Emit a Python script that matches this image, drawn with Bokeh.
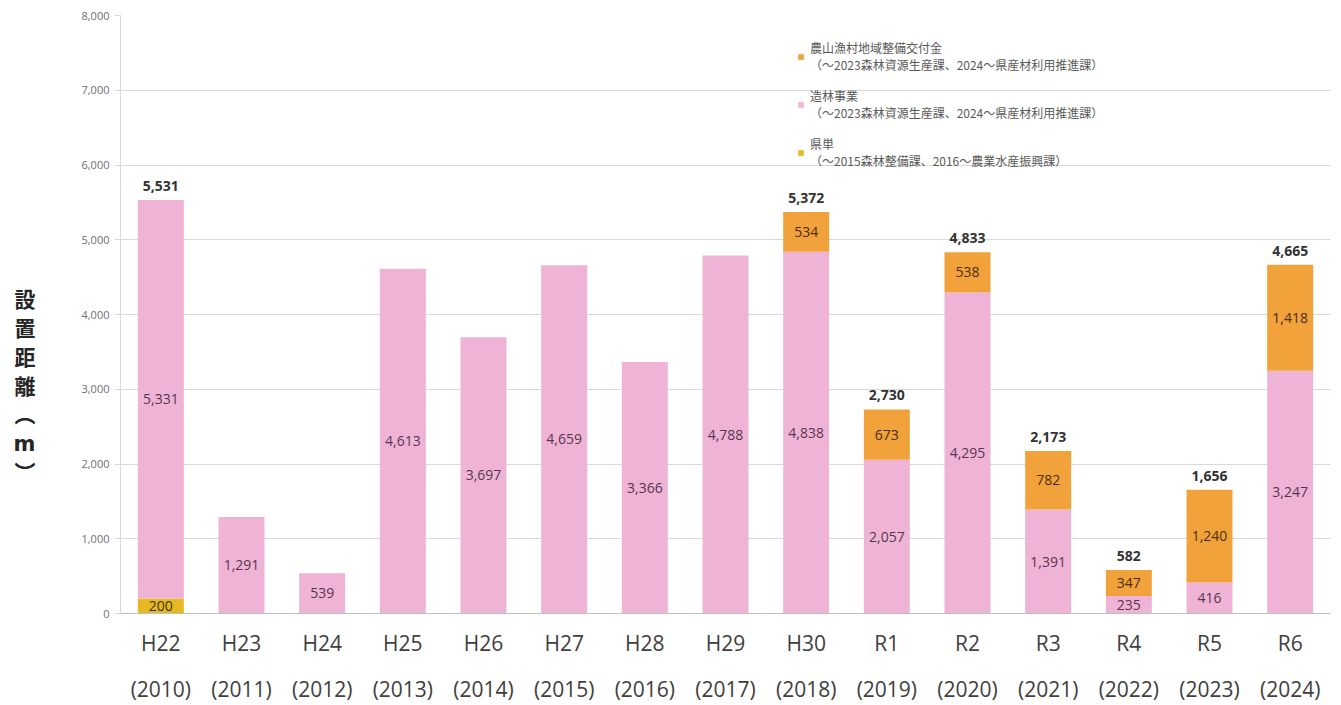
from bokeh.plotting import figure
from bokeh.models import (ColumnDataSource, FactorRange, Range1d, CategoricalAxis,
                          NumeralTickFormatter, LabelSet, Legend, LegendItem,
                          SingleIntervalTicker)
from bokeh.core.properties import value
from bokeh.embed import file_html
from bokeh.resources import INLINE

categories = ["H22", "H23", "H24", "H25", "H26", "H27", "H28", "H29", "H30",
              "R1", "R2", "R3", "R4", "R5", "R6"]
years = ["(2010)", "(2011)", "(2012)", "(2013)", "(2014)", "(2015)", "(2016)", "(2017)",
         "(2018)", "(2019)", "(2020)", "(2021)", "(2022)", "(2023)", "(2024)"]
kentan = [200, 0, 0, 0, 0, 0, 0, 0, 0, 0, 0, 0, 0, 0, 0]
zorin = [5331, 1291, 539, 4613, 3697, 4659, 3366, 4788, 4838, 2057, 4295, 1391, 235, 416, 3247]
noson = [0, 0, 0, 0, 0, 0, 0, 0, 534, 673, 538, 782, 347, 1240, 1418]
show_total = [True, False, False, False, False, False, False, False, True,
              True, True, True, True, True, True]

legend_labels = [
    "農山漁村地域整備交付金\n（～2023森林資源生産課、2024～県産材利用推進課）",
    "造林事業\n（～2023森林資源生産課、2024～県産材利用推進課）",
    "県単\n（～2015森林整備課、2016～農業水産振興課）",
]
y_title = "\n\n\n\n\n設\n置\n距\n離\n︵\nm\n︶"

C_YEL = "#E6B923"
C_PINK = "#EFB4D5"
C_ORG = "#F1A23A"

src = ColumnDataSource(dict(cat=categories, kentan=kentan, zorin=zorin, noson=noson))

p = figure(x_range=FactorRange(*categories, range_padding=0), y_range=Range1d(0, 8000),
           width=1341, height=705, output_backend="svg", toolbar_location=None,
           min_border_left=120, min_border_right=11, min_border_top=15, min_border_bottom=91)
p.outline_line_color = None
p.background_fill_color = "white"
p.xgrid.grid_line_color = None
p.ygrid.grid_line_color = "#d9d9d9"
p.ygrid.grid_line_width = 1
p.extra_x_ranges = {"years": FactorRange(*years, range_padding=0)}

rs = p.vbar_stack(["kentan", "zorin", "noson"], x="cat", width=0.57,
                  color=[C_YEL, C_PINK, C_ORG], line_color=None, source=src)

# y axis
ya = p.yaxis[0]
ya.ticker = SingleIntervalTicker(interval=1000)
ya.formatter = NumeralTickFormatter(format="0,0")
ya.axis_line_color = "#d9d9d9"
ya.major_tick_line_color = "#d9d9d9"
ya.major_tick_out = 6
ya.major_tick_in = 0
ya.minor_tick_line_color = None
ya.major_label_text_font = "Open Sans"
ya.major_label_text_font_size = "11px"
ya.major_label_text_color = "#707070"
ya.major_label_standoff = 5
ya.axis_label = y_title
ya.axis_label_text_font = "DejaVu Sans, Noto Sans CJK JP"
ya.axis_label_text_font_style = "bold"
ya.axis_label_text_font_size = "21px"
ya.axis_label_text_color = "#262626"
ya.axis_label_standoff = 43
try:
    ya.axis_label_orientation = "horizontal"
except AttributeError:
    pass

# x axes
xa = p.xaxis[0]
xa.axis_line_color = "#bfbfbf"
xa.major_tick_line_color = None
xa.major_label_text_font = "Open Sans"
xa.major_label_text_font_size = "21px"
xa.major_label_text_color = "#404040"
xa.major_label_standoff = 9

xa2 = CategoricalAxis(x_range_name="years", axis_line_color=None, major_tick_line_color=None,
                      major_label_text_font="Open Sans", major_label_text_font_size="21px",
                      major_label_text_color="#404040", major_label_standoff=9)
p.add_layout(xa2, "below")

# segment labels
def seg_labels(vals, base, color):
    xs, ys, ts = [], [], []
    for c, v, b in zip(categories, vals, base):
        if v > 0:
            xs.append(c); ys.append(b + v / 2); ts.append(f"{v:,}")
    s = ColumnDataSource(dict(x=xs, y=ys, t=ts))
    p.add_layout(LabelSet(x="x", y="y", text="t", source=s, text_align="center",
                          text_baseline="middle", text_font=value("Open Sans"),
                          text_font_size="14px", text_color=color))

zero = [0] * len(categories)
seg_labels(kentan, zero, "#3d3300")
seg_labels(zorin, kentan, "#5a3450")
seg_labels(noson, [a + b for a, b in zip(kentan, zorin)], "#4a2e0a")

tx, ty, tt = [], [], []
for c, a, b, d, s in zip(categories, kentan, zorin, noson, show_total):
    if s:
        tot = a + b + d
        tx.append(c); ty.append(tot); tt.append(f"{tot:,}")
tsrc = ColumnDataSource(dict(x=tx, y=ty, t=tt))
p.add_layout(LabelSet(x="x", y="y", text="t", source=tsrc, text_align="center",
                      text_baseline="middle", y_offset=14, text_font=value("Open Sans"),
                      text_font_style="bold", text_font_size="14px", text_color="#333333"))

# legend
legend = Legend(items=[LegendItem(label=legend_labels[0], renderers=[rs[2]]),
                       LegendItem(label=legend_labels[1], renderers=[rs[1]]),
                       LegendItem(label=legend_labels[2], renderers=[rs[0]])],
                location=(677, 444), orientation="vertical")
legend.glyph_width = 7
legend.glyph_height = 7
legend.label_text_font = "Noto Sans CJK JP"
legend.label_text_font_size = "12px"
legend.label_text_color = "#595959"
legend.label_standoff = 6
legend.spacing = 14
legend.padding = 0
legend.margin = 0
legend.border_line_color = None
legend.background_fill_alpha = 0
p.add_layout(legend, "center")

open("out.html", "w").write(file_html(p, INLINE))
